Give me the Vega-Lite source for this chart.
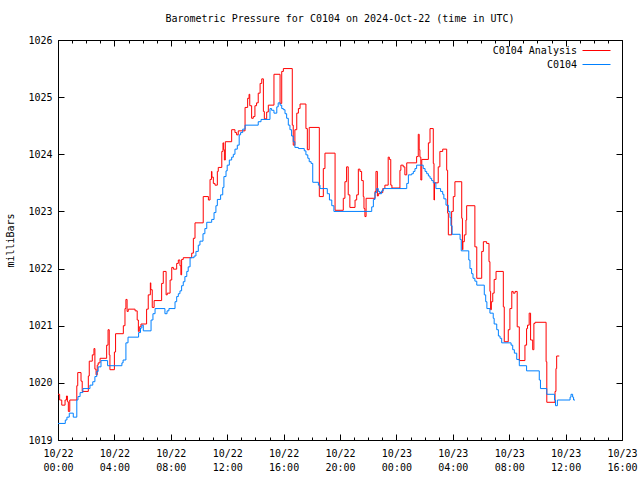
{
 "$schema": "https://vega.github.io/schema/vega-lite/v6.json",
 "width": 564, "height": 400,
 "autosize": {"type": "none"},
 "padding": {"left": 58, "top": 40, "right": 18, "bottom": 40},
 "background": "white",
 "title": {"text": "Barometric Pressure for C0104 on 2024-Oct-22 (time in UTC)", "fontSize": 10, "fontWeight": "normal", "offset": 11, "color": "black"},
 "config": {
  "font": "DejaVu Sans Mono",
  "view": {"stroke": "black", "strokeWidth": 1},
  "axis": {"grid": false, "domain": false, "tickColor": "black", "labelColor": "black", "labelFontSize": 10, "titleFontSize": 10, "titleFontWeight": "normal", "titleColor": "black"}
 },
 "data": {"values": [
   {"s":"C0104 Analysis","t":"2024-10-22T00:00:00Z","p":1019.80},
   {"s":"C0104 Analysis","t":"2024-10-22T00:07:00Z","p":1019.70},
   {"s":"C0104 Analysis","t":"2024-10-22T00:16:00Z","p":1019.61},
   {"s":"C0104 Analysis","t":"2024-10-22T00:30:00Z","p":1019.70},
   {"s":"C0104 Analysis","t":"2024-10-22T00:36:00Z","p":1019.77},
   {"s":"C0104 Analysis","t":"2024-10-22T00:40:00Z","p":1019.67},
   {"s":"C0104 Analysis","t":"2024-10-22T00:44:00Z","p":1019.50},
   {"s":"C0104 Analysis","t":"2024-10-22T00:50:00Z","p":1019.70},
   {"s":"C0104 Analysis","t":"2024-10-22T01:20:00Z","p":1019.95},
   {"s":"C0104 Analysis","t":"2024-10-22T01:24:00Z","p":1020.18},
   {"s":"C0104 Analysis","t":"2024-10-22T01:38:00Z","p":1020.03},
   {"s":"C0104 Analysis","t":"2024-10-22T01:43:00Z","p":1019.85},
   {"s":"C0104 Analysis","t":"2024-10-22T02:09:00Z","p":1020.12},
   {"s":"C0104 Analysis","t":"2024-10-22T02:13:00Z","p":1020.38},
   {"s":"C0104 Analysis","t":"2024-10-22T02:26:00Z","p":1020.49},
   {"s":"C0104 Analysis","t":"2024-10-22T02:33:00Z","p":1020.60},
   {"s":"C0104 Analysis","t":"2024-10-22T02:37:00Z","p":1020.24},
   {"s":"C0104 Analysis","t":"2024-10-22T02:42:00Z","p":1020.14},
   {"s":"C0104 Analysis","t":"2024-10-22T02:47:00Z","p":1020.31},
   {"s":"C0104 Analysis","t":"2024-10-22T02:51:00Z","p":1020.35},
   {"s":"C0104 Analysis","t":"2024-10-22T02:59:00Z","p":1020.43},
   {"s":"C0104 Analysis","t":"2024-10-22T03:27:00Z","p":1020.66},
   {"s":"C0104 Analysis","t":"2024-10-22T03:33:00Z","p":1020.93},
   {"s":"C0104 Analysis","t":"2024-10-22T03:38:00Z","p":1020.49},
   {"s":"C0104 Analysis","t":"2024-10-22T03:41:00Z","p":1020.23},
   {"s":"C0104 Analysis","t":"2024-10-22T04:00:00Z","p":1020.54},
   {"s":"C0104 Analysis","t":"2024-10-22T04:05:00Z","p":1020.86},
   {"s":"C0104 Analysis","t":"2024-10-22T04:38:00Z","p":1021.00},
   {"s":"C0104 Analysis","t":"2024-10-22T04:45:00Z","p":1021.30},
   {"s":"C0104 Analysis","t":"2024-10-22T04:49:00Z","p":1021.46},
   {"s":"C0104 Analysis","t":"2024-10-22T04:54:00Z","p":1021.25},
   {"s":"C0104 Analysis","t":"2024-10-22T04:59:00Z","p":1021.29},
   {"s":"C0104 Analysis","t":"2024-10-22T05:28:00Z","p":1021.26},
   {"s":"C0104 Analysis","t":"2024-10-22T05:37:00Z","p":1021.10},
   {"s":"C0104 Analysis","t":"2024-10-22T05:42:00Z","p":1020.90},
   {"s":"C0104 Analysis","t":"2024-10-22T05:46:00Z","p":1020.98},
   {"s":"C0104 Analysis","t":"2024-10-22T05:53:00Z","p":1021.03},
   {"s":"C0104 Analysis","t":"2024-10-22T06:17:00Z","p":1021.29},
   {"s":"C0104 Analysis","t":"2024-10-22T06:24:00Z","p":1021.54},
   {"s":"C0104 Analysis","t":"2024-10-22T06:33:00Z","p":1021.75},
   {"s":"C0104 Analysis","t":"2024-10-22T06:35:00Z","p":1021.63},
   {"s":"C0104 Analysis","t":"2024-10-22T06:41:00Z","p":1021.32},
   {"s":"C0104 Analysis","t":"2024-10-22T06:49:00Z","p":1021.44},
   {"s":"C0104 Analysis","t":"2024-10-22T07:21:00Z","p":1021.74},
   {"s":"C0104 Analysis","t":"2024-10-22T07:28:00Z","p":1021.95},
   {"s":"C0104 Analysis","t":"2024-10-22T07:40:00Z","p":1021.54},
   {"s":"C0104 Analysis","t":"2024-10-22T07:45:00Z","p":1021.57},
   {"s":"C0104 Analysis","t":"2024-10-22T07:57:00Z","p":1021.80},
   {"s":"C0104 Analysis","t":"2024-10-22T08:04:00Z","p":1022.02},
   {"s":"C0104 Analysis","t":"2024-10-22T08:11:00Z","p":1021.99},
   {"s":"C0104 Analysis","t":"2024-10-22T08:25:00Z","p":1022.09},
   {"s":"C0104 Analysis","t":"2024-10-22T08:32:00Z","p":1022.15},
   {"s":"C0104 Analysis","t":"2024-10-22T08:39:00Z","p":1022.05},
   {"s":"C0104 Analysis","t":"2024-10-22T08:43:00Z","p":1021.89},
   {"s":"C0104 Analysis","t":"2024-10-22T08:46:00Z","p":1022.16},
   {"s":"C0104 Analysis","t":"2024-10-22T08:53:00Z","p":1022.19},
   {"s":"C0104 Analysis","t":"2024-10-22T09:29:00Z","p":1022.27},
   {"s":"C0104 Analysis","t":"2024-10-22T09:36:00Z","p":1022.53},
   {"s":"C0104 Analysis","t":"2024-10-22T09:43:00Z","p":1022.80},
   {"s":"C0104 Analysis","t":"2024-10-22T10:18:00Z","p":1023.26},
   {"s":"C0104 Analysis","t":"2024-10-22T10:40:00Z","p":1023.20},
   {"s":"C0104 Analysis","t":"2024-10-22T10:47:00Z","p":1023.56},
   {"s":"C0104 Analysis","t":"2024-10-22T10:53:00Z","p":1023.70},
   {"s":"C0104 Analysis","t":"2024-10-22T10:55:00Z","p":1023.60},
   {"s":"C0104 Analysis","t":"2024-10-22T11:01:00Z","p":1023.49},
   {"s":"C0104 Analysis","t":"2024-10-22T11:08:00Z","p":1023.46},
   {"s":"C0104 Analysis","t":"2024-10-22T11:18:00Z","p":1023.70},
   {"s":"C0104 Analysis","t":"2024-10-22T11:22:00Z","p":1023.77},
   {"s":"C0104 Analysis","t":"2024-10-22T11:37:00Z","p":1024.05},
   {"s":"C0104 Analysis","t":"2024-10-22T11:42:00Z","p":1024.20},
   {"s":"C0104 Analysis","t":"2024-10-22T11:45:00Z","p":1024.08},
   {"s":"C0104 Analysis","t":"2024-10-22T11:48:00Z","p":1023.90},
   {"s":"C0104 Analysis","t":"2024-10-22T11:52:00Z","p":1024.22},
   {"s":"C0104 Analysis","t":"2024-10-22T12:19:00Z","p":1024.43},
   {"s":"C0104 Analysis","t":"2024-10-22T12:33:00Z","p":1024.38},
   {"s":"C0104 Analysis","t":"2024-10-22T12:40:00Z","p":1024.34},
   {"s":"C0104 Analysis","t":"2024-10-22T12:47:00Z","p":1024.41},
   {"s":"C0104 Analysis","t":"2024-10-22T13:16:00Z","p":1024.82},
   {"s":"C0104 Analysis","t":"2024-10-22T13:27:00Z","p":1024.98},
   {"s":"C0104 Analysis","t":"2024-10-22T13:33:00Z","p":1025.05},
   {"s":"C0104 Analysis","t":"2024-10-22T13:36:00Z","p":1024.85},
   {"s":"C0104 Analysis","t":"2024-10-22T13:44:00Z","p":1024.63},
   {"s":"C0104 Analysis","t":"2024-10-22T13:51:00Z","p":1024.66},
   {"s":"C0104 Analysis","t":"2024-10-22T13:58:00Z","p":1024.85},
   {"s":"C0104 Analysis","t":"2024-10-22T14:05:00Z","p":1024.90},
   {"s":"C0104 Analysis","t":"2024-10-22T14:12:00Z","p":1025.07},
   {"s":"C0104 Analysis","t":"2024-10-22T14:20:00Z","p":1025.24},
   {"s":"C0104 Analysis","t":"2024-10-22T14:27:00Z","p":1025.32},
   {"s":"C0104 Analysis","t":"2024-10-22T14:34:00Z","p":1024.75},
   {"s":"C0104 Analysis","t":"2024-10-22T14:38:00Z","p":1024.62},
   {"s":"C0104 Analysis","t":"2024-10-22T14:48:00Z","p":1024.74},
   {"s":"C0104 Analysis","t":"2024-10-22T14:55:00Z","p":1024.86},
   {"s":"C0104 Analysis","t":"2024-10-22T15:19:00Z","p":1025.40},
   {"s":"C0104 Analysis","t":"2024-10-22T15:45:00Z","p":1024.89},
   {"s":"C0104 Analysis","t":"2024-10-22T15:52:00Z","p":1025.45},
   {"s":"C0104 Analysis","t":"2024-10-22T15:59:00Z","p":1025.50},
   {"s":"C0104 Analysis","t":"2024-10-22T16:37:00Z","p":1024.51},
   {"s":"C0104 Analysis","t":"2024-10-22T16:41:00Z","p":1024.16},
   {"s":"C0104 Analysis","t":"2024-10-22T16:48:00Z","p":1024.43},
   {"s":"C0104 Analysis","t":"2024-10-22T16:56:00Z","p":1024.72},
   {"s":"C0104 Analysis","t":"2024-10-22T17:03:00Z","p":1024.80},
   {"s":"C0104 Analysis","t":"2024-10-22T17:10:00Z","p":1024.88},
   {"s":"C0104 Analysis","t":"2024-10-22T17:35:00Z","p":1024.45},
   {"s":"C0104 Analysis","t":"2024-10-22T17:41:00Z","p":1024.08},
   {"s":"C0104 Analysis","t":"2024-10-22T17:49:00Z","p":1024.47},
   {"s":"C0104 Analysis","t":"2024-10-22T18:32:00Z","p":1023.26},
   {"s":"C0104 Analysis","t":"2024-10-22T18:49:00Z","p":1023.75},
   {"s":"C0104 Analysis","t":"2024-10-22T18:56:00Z","p":1024.02},
   {"s":"C0104 Analysis","t":"2024-10-22T19:39:00Z","p":1023.02},
   {"s":"C0104 Analysis","t":"2024-10-22T20:14:00Z","p":1023.23},
   {"s":"C0104 Analysis","t":"2024-10-22T20:21:00Z","p":1023.52},
   {"s":"C0104 Analysis","t":"2024-10-22T20:28:00Z","p":1023.78},
   {"s":"C0104 Analysis","t":"2024-10-22T20:35:00Z","p":1023.29},
   {"s":"C0104 Analysis","t":"2024-10-22T20:42:00Z","p":1023.07},
   {"s":"C0104 Analysis","t":"2024-10-22T21:04:00Z","p":1023.20},
   {"s":"C0104 Analysis","t":"2024-10-22T21:11:00Z","p":1023.29},
   {"s":"C0104 Analysis","t":"2024-10-22T21:18:00Z","p":1023.74},
   {"s":"C0104 Analysis","t":"2024-10-22T21:25:00Z","p":1023.70},
   {"s":"C0104 Analysis","t":"2024-10-22T21:32:00Z","p":1023.54},
   {"s":"C0104 Analysis","t":"2024-10-22T21:39:00Z","p":1023.26},
   {"s":"C0104 Analysis","t":"2024-10-22T21:42:00Z","p":1023.05},
   {"s":"C0104 Analysis","t":"2024-10-22T21:46:00Z","p":1022.91},
   {"s":"C0104 Analysis","t":"2024-10-22T21:51:00Z","p":1023.23},
   {"s":"C0104 Analysis","t":"2024-10-22T22:29:00Z","p":1023.35},
   {"s":"C0104 Analysis","t":"2024-10-22T22:33:00Z","p":1023.70},
   {"s":"C0104 Analysis","t":"2024-10-22T22:39:00Z","p":1023.27},
   {"s":"C0104 Analysis","t":"2024-10-22T22:43:00Z","p":1023.31},
   {"s":"C0104 Analysis","t":"2024-10-22T22:50:00Z","p":1023.33},
   {"s":"C0104 Analysis","t":"2024-10-22T23:02:00Z","p":1023.40},
   {"s":"C0104 Analysis","t":"2024-10-22T23:11:00Z","p":1023.46},
   {"s":"C0104 Analysis","t":"2024-10-22T23:25:00Z","p":1023.95},
   {"s":"C0104 Analysis","t":"2024-10-22T23:30:00Z","p":1023.91},
   {"s":"C0104 Analysis","t":"2024-10-22T23:36:00Z","p":1023.46},
   {"s":"C0104 Analysis","t":"2024-10-22T23:41:00Z","p":1023.41},
   {"s":"C0104 Analysis","t":"2024-10-23T00:15:00Z","p":1023.72},
   {"s":"C0104 Analysis","t":"2024-10-23T00:19:00Z","p":1023.81},
   {"s":"C0104 Analysis","t":"2024-10-23T00:29:00Z","p":1023.78},
   {"s":"C0104 Analysis","t":"2024-10-23T00:36:00Z","p":1023.64},
   {"s":"C0104 Analysis","t":"2024-10-23T00:44:00Z","p":1023.85},
   {"s":"C0104 Analysis","t":"2024-10-23T01:26:00Z","p":1023.96},
   {"s":"C0104 Analysis","t":"2024-10-23T01:33:00Z","p":1024.35},
   {"s":"C0104 Analysis","t":"2024-10-23T01:37:00Z","p":1024.08},
   {"s":"C0104 Analysis","t":"2024-10-23T01:40:00Z","p":1023.95},
   {"s":"C0104 Analysis","t":"2024-10-23T01:44:00Z","p":1023.55},
   {"s":"C0104 Analysis","t":"2024-10-23T01:48:00Z","p":1023.91},
   {"s":"C0104 Analysis","t":"2024-10-23T02:16:00Z","p":1024.20},
   {"s":"C0104 Analysis","t":"2024-10-23T02:23:00Z","p":1024.45},
   {"s":"C0104 Analysis","t":"2024-10-23T02:37:00Z","p":1023.84},
   {"s":"C0104 Analysis","t":"2024-10-23T02:40:00Z","p":1023.20},
   {"s":"C0104 Analysis","t":"2024-10-23T02:42:00Z","p":1023.50},
   {"s":"C0104 Analysis","t":"2024-10-23T02:58:00Z","p":1023.78},
   {"s":"C0104 Analysis","t":"2024-10-23T03:05:00Z","p":1024.05},
   {"s":"C0104 Analysis","t":"2024-10-23T03:17:00Z","p":1024.09},
   {"s":"C0104 Analysis","t":"2024-10-23T03:34:00Z","p":1023.72},
   {"s":"C0104 Analysis","t":"2024-10-23T03:38:00Z","p":1022.97},
   {"s":"C0104 Analysis","t":"2024-10-23T03:41:00Z","p":1022.59},
   {"s":"C0104 Analysis","t":"2024-10-23T03:55:00Z","p":1023.00},
   {"s":"C0104 Analysis","t":"2024-10-23T04:02:00Z","p":1023.26},
   {"s":"C0104 Analysis","t":"2024-10-23T04:09:00Z","p":1023.52},
   {"s":"C0104 Analysis","t":"2024-10-23T04:38:00Z","p":1022.88},
   {"s":"C0104 Analysis","t":"2024-10-23T04:41:00Z","p":1022.33},
   {"s":"C0104 Analysis","t":"2024-10-23T04:43:00Z","p":1022.47},
   {"s":"C0104 Analysis","t":"2024-10-23T04:49:00Z","p":1022.59},
   {"s":"C0104 Analysis","t":"2024-10-23T04:56:00Z","p":1022.85},
   {"s":"C0104 Analysis","t":"2024-10-23T04:59:00Z","p":1023.10},
   {"s":"C0104 Analysis","t":"2024-10-23T05:34:00Z","p":1022.38},
   {"s":"C0104 Analysis","t":"2024-10-23T05:42:00Z","p":1021.83},
   {"s":"C0104 Analysis","t":"2024-10-23T06:03:00Z","p":1022.30},
   {"s":"C0104 Analysis","t":"2024-10-23T06:10:00Z","p":1022.47},
   {"s":"C0104 Analysis","t":"2024-10-23T06:24:00Z","p":1022.44},
   {"s":"C0104 Analysis","t":"2024-10-23T06:34:00Z","p":1022.12},
   {"s":"C0104 Analysis","t":"2024-10-23T06:38:00Z","p":1021.60},
   {"s":"C0104 Analysis","t":"2024-10-23T06:41:00Z","p":1021.28},
   {"s":"C0104 Analysis","t":"2024-10-23T06:44:00Z","p":1021.42},
   {"s":"C0104 Analysis","t":"2024-10-23T06:50:00Z","p":1021.57},
   {"s":"C0104 Analysis","t":"2024-10-23T06:56:00Z","p":1021.81},
   {"s":"C0104 Analysis","t":"2024-10-23T07:04:00Z","p":1021.95},
   {"s":"C0104 Analysis","t":"2024-10-23T07:35:00Z","p":1021.33},
   {"s":"C0104 Analysis","t":"2024-10-23T07:39:00Z","p":1020.72},
   {"s":"C0104 Analysis","t":"2024-10-23T07:56:00Z","p":1020.93},
   {"s":"C0104 Analysis","t":"2024-10-23T08:03:00Z","p":1021.30},
   {"s":"C0104 Analysis","t":"2024-10-23T08:11:00Z","p":1021.60},
   {"s":"C0104 Analysis","t":"2024-10-23T08:17:00Z","p":1021.57},
   {"s":"C0104 Analysis","t":"2024-10-23T08:25:00Z","p":1021.60},
   {"s":"C0104 Analysis","t":"2024-10-23T08:34:00Z","p":1020.98},
   {"s":"C0104 Analysis","t":"2024-10-23T08:43:00Z","p":1020.39},
   {"s":"C0104 Analysis","t":"2024-10-23T09:07:00Z","p":1020.66},
   {"s":"C0104 Analysis","t":"2024-10-23T09:14:00Z","p":1020.95},
   {"s":"C0104 Analysis","t":"2024-10-23T09:18:00Z","p":1021.01},
   {"s":"C0104 Analysis","t":"2024-10-23T09:25:00Z","p":1021.22},
   {"s":"C0104 Analysis","t":"2024-10-23T09:31:00Z","p":1020.75},
   {"s":"C0104 Analysis","t":"2024-10-23T09:40:00Z","p":1020.58},
   {"s":"C0104 Analysis","t":"2024-10-23T09:45:00Z","p":1021.04},
   {"s":"C0104 Analysis","t":"2024-10-23T09:50:00Z","p":1021.06},
   {"s":"C0104 Analysis","t":"2024-10-23T10:37:00Z","p":1020.37},
   {"s":"C0104 Analysis","t":"2024-10-23T10:40:00Z","p":1019.66},
   {"s":"C0104 Analysis","t":"2024-10-23T11:15:00Z","p":1019.85},
   {"s":"C0104 Analysis","t":"2024-10-23T11:19:00Z","p":1020.25},
   {"s":"C0104 Analysis","t":"2024-10-23T11:22:00Z","p":1020.47},
   {"s":"C0104 Analysis","t":"2024-10-23T11:33:00Z","p":1020.47},
   {"s":"C0104","t":"2024-10-22T00:00:00Z","p":1019.29},
   {"s":"C0104","t":"2024-10-22T00:31:00Z","p":1019.35},
   {"s":"C0104","t":"2024-10-22T00:38:00Z","p":1019.40},
   {"s":"C0104","t":"2024-10-22T00:48:00Z","p":1019.47},
   {"s":"C0104","t":"2024-10-22T01:05:00Z","p":1019.40},
   {"s":"C0104","t":"2024-10-22T01:20:00Z","p":1019.70},
   {"s":"C0104","t":"2024-10-22T01:25:00Z","p":1019.76},
   {"s":"C0104","t":"2024-10-22T01:34:00Z","p":1019.83},
   {"s":"C0104","t":"2024-10-22T01:46:00Z","p":1019.90},
   {"s":"C0104","t":"2024-10-22T02:16:00Z","p":1019.96},
   {"s":"C0104","t":"2024-10-22T02:28:00Z","p":1020.02},
   {"s":"C0104","t":"2024-10-22T02:37:00Z","p":1020.11},
   {"s":"C0104","t":"2024-10-22T02:45:00Z","p":1020.20},
   {"s":"C0104","t":"2024-10-22T02:51:00Z","p":1020.28},
   {"s":"C0104","t":"2024-10-22T03:03:00Z","p":1020.39},
   {"s":"C0104","t":"2024-10-22T03:31:00Z","p":1020.30},
   {"s":"C0104","t":"2024-10-22T04:32:00Z","p":1020.35},
   {"s":"C0104","t":"2024-10-22T04:37:00Z","p":1020.40},
   {"s":"C0104","t":"2024-10-22T04:49:00Z","p":1020.70},
   {"s":"C0104","t":"2024-10-22T04:58:00Z","p":1020.80},
   {"s":"C0104","t":"2024-10-22T05:43:00Z","p":1020.88},
   {"s":"C0104","t":"2024-10-22T05:51:00Z","p":1020.96},
   {"s":"C0104","t":"2024-10-22T05:57:00Z","p":1021.01},
   {"s":"C0104","t":"2024-10-22T06:03:00Z","p":1020.91},
   {"s":"C0104","t":"2024-10-22T06:36:00Z","p":1021.10},
   {"s":"C0104","t":"2024-10-22T06:44:00Z","p":1021.21},
   {"s":"C0104","t":"2024-10-22T06:53:00Z","p":1021.30},
   {"s":"C0104","t":"2024-10-22T07:35:00Z","p":1021.21},
   {"s":"C0104","t":"2024-10-22T07:44:00Z","p":1021.26},
   {"s":"C0104","t":"2024-10-22T07:52:00Z","p":1021.30},
   {"s":"C0104","t":"2024-10-22T08:18:00Z","p":1021.42},
   {"s":"C0104","t":"2024-10-22T08:25:00Z","p":1021.51},
   {"s":"C0104","t":"2024-10-22T08:32:00Z","p":1021.56},
   {"s":"C0104","t":"2024-10-22T08:39:00Z","p":1021.61},
   {"s":"C0104","t":"2024-10-22T08:46:00Z","p":1021.70},
   {"s":"C0104","t":"2024-10-22T08:53:00Z","p":1021.77},
   {"s":"C0104","t":"2024-10-22T09:00:00Z","p":1021.86},
   {"s":"C0104","t":"2024-10-22T09:08:00Z","p":1021.95},
   {"s":"C0104","t":"2024-10-22T09:14:00Z","p":1022.03},
   {"s":"C0104","t":"2024-10-22T09:22:00Z","p":1022.19},
   {"s":"C0104","t":"2024-10-22T09:39:00Z","p":1022.22},
   {"s":"C0104","t":"2024-10-22T09:47:00Z","p":1022.30},
   {"s":"C0104","t":"2024-10-22T09:57:00Z","p":1022.41},
   {"s":"C0104","t":"2024-10-22T10:04:00Z","p":1022.48},
   {"s":"C0104","t":"2024-10-22T10:17:00Z","p":1022.61},
   {"s":"C0104","t":"2024-10-22T10:25:00Z","p":1022.70},
   {"s":"C0104","t":"2024-10-22T10:33:00Z","p":1022.81},
   {"s":"C0104","t":"2024-10-22T10:54:00Z","p":1022.86},
   {"s":"C0104","t":"2024-10-22T11:04:00Z","p":1022.98},
   {"s":"C0104","t":"2024-10-22T11:12:00Z","p":1023.10},
   {"s":"C0104","t":"2024-10-22T11:18:00Z","p":1023.21},
   {"s":"C0104","t":"2024-10-22T11:32:00Z","p":1023.29},
   {"s":"C0104","t":"2024-10-22T11:41:00Z","p":1023.42},
   {"s":"C0104","t":"2024-10-22T11:46:00Z","p":1023.61},
   {"s":"C0104","t":"2024-10-22T11:55:00Z","p":1023.71},
   {"s":"C0104","t":"2024-10-22T12:00:00Z","p":1023.81},
   {"s":"C0104","t":"2024-10-22T12:09:00Z","p":1023.90},
   {"s":"C0104","t":"2024-10-22T12:19:00Z","p":1023.95},
   {"s":"C0104","t":"2024-10-22T12:26:00Z","p":1024.00},
   {"s":"C0104","t":"2024-10-22T12:33:00Z","p":1024.09},
   {"s":"C0104","t":"2024-10-22T12:43:00Z","p":1024.16},
   {"s":"C0104","t":"2024-10-22T12:51:00Z","p":1024.34},
   {"s":"C0104","t":"2024-10-22T12:57:00Z","p":1024.38},
   {"s":"C0104","t":"2024-10-22T13:06:00Z","p":1024.44},
   {"s":"C0104","t":"2024-10-22T13:16:00Z","p":1024.51},
   {"s":"C0104","t":"2024-10-22T14:12:00Z","p":1024.57},
   {"s":"C0104","t":"2024-10-22T14:24:00Z","p":1024.61},
   {"s":"C0104","t":"2024-10-22T15:02:00Z","p":1024.80},
   {"s":"C0104","t":"2024-10-22T15:09:00Z","p":1024.77},
   {"s":"C0104","t":"2024-10-22T15:19:00Z","p":1024.72},
   {"s":"C0104","t":"2024-10-22T15:31:00Z","p":1024.83},
   {"s":"C0104","t":"2024-10-22T15:37:00Z","p":1024.90},
   {"s":"C0104","t":"2024-10-22T15:45:00Z","p":1024.86},
   {"s":"C0104","t":"2024-10-22T15:52:00Z","p":1024.80},
   {"s":"C0104","t":"2024-10-22T15:59:00Z","p":1024.78},
   {"s":"C0104","t":"2024-10-22T16:06:00Z","p":1024.71},
   {"s":"C0104","t":"2024-10-22T16:13:00Z","p":1024.63},
   {"s":"C0104","t":"2024-10-22T16:20:00Z","p":1024.51},
   {"s":"C0104","t":"2024-10-22T16:27:00Z","p":1024.43},
   {"s":"C0104","t":"2024-10-22T16:34:00Z","p":1024.32},
   {"s":"C0104","t":"2024-10-22T16:41:00Z","p":1024.22},
   {"s":"C0104","t":"2024-10-22T16:48:00Z","p":1024.12},
   {"s":"C0104","t":"2024-10-22T17:03:00Z","p":1024.10},
   {"s":"C0104","t":"2024-10-22T17:28:00Z","p":1024.06},
   {"s":"C0104","t":"2024-10-22T17:35:00Z","p":1023.99},
   {"s":"C0104","t":"2024-10-22T17:43:00Z","p":1023.93},
   {"s":"C0104","t":"2024-10-22T17:49:00Z","p":1023.87},
   {"s":"C0104","t":"2024-10-22T17:57:00Z","p":1023.84},
   {"s":"C0104","t":"2024-10-22T18:04:00Z","p":1023.51},
   {"s":"C0104","t":"2024-10-22T18:28:00Z","p":1023.46},
   {"s":"C0104","t":"2024-10-22T18:35:00Z","p":1023.40},
   {"s":"C0104","t":"2024-10-22T19:06:00Z","p":1023.31},
   {"s":"C0104","t":"2024-10-22T19:15:00Z","p":1023.20},
   {"s":"C0104","t":"2024-10-22T19:25:00Z","p":1023.10},
   {"s":"C0104","t":"2024-10-22T19:34:00Z","p":1023.00},
   {"s":"C0104","t":"2024-10-22T22:15:00Z","p":1023.08},
   {"s":"C0104","t":"2024-10-22T22:22:00Z","p":1023.21},
   {"s":"C0104","t":"2024-10-22T22:29:00Z","p":1023.33},
   {"s":"C0104","t":"2024-10-22T22:36:00Z","p":1023.40},
   {"s":"C0104","t":"2024-10-22T22:43:00Z","p":1023.35},
   {"s":"C0104","t":"2024-10-22T22:50:00Z","p":1023.31},
   {"s":"C0104","t":"2024-10-22T22:57:00Z","p":1023.36},
   {"s":"C0104","t":"2024-10-22T23:04:00Z","p":1023.40},
   {"s":"C0104","t":"2024-10-23T00:44:00Z","p":1023.49},
   {"s":"C0104","t":"2024-10-23T00:51:00Z","p":1023.64},
   {"s":"C0104","t":"2024-10-23T01:05:00Z","p":1023.66},
   {"s":"C0104","t":"2024-10-23T01:12:00Z","p":1023.70},
   {"s":"C0104","t":"2024-10-23T01:19:00Z","p":1023.75},
   {"s":"C0104","t":"2024-10-23T01:26:00Z","p":1023.81},
   {"s":"C0104","t":"2024-10-23T01:54:00Z","p":1023.75},
   {"s":"C0104","t":"2024-10-23T02:02:00Z","p":1023.70},
   {"s":"C0104","t":"2024-10-23T02:09:00Z","p":1023.66},
   {"s":"C0104","t":"2024-10-23T02:16:00Z","p":1023.62},
   {"s":"C0104","t":"2024-10-23T02:23:00Z","p":1023.58},
   {"s":"C0104","t":"2024-10-23T02:30:00Z","p":1023.54},
   {"s":"C0104","t":"2024-10-23T02:37:00Z","p":1023.50},
   {"s":"C0104","t":"2024-10-23T02:48:00Z","p":1023.40},
   {"s":"C0104","t":"2024-10-23T03:08:00Z","p":1023.35},
   {"s":"C0104","t":"2024-10-23T03:17:00Z","p":1023.30},
   {"s":"C0104","t":"2024-10-23T03:22:00Z","p":1023.22},
   {"s":"C0104","t":"2024-10-23T03:31:00Z","p":1023.11},
   {"s":"C0104","t":"2024-10-23T03:41:00Z","p":1023.00},
   {"s":"C0104","t":"2024-10-23T03:48:00Z","p":1022.89},
   {"s":"C0104","t":"2024-10-23T03:52:00Z","p":1022.75},
   {"s":"C0104","t":"2024-10-23T03:57:00Z","p":1022.60},
   {"s":"C0104","t":"2024-10-23T04:31:00Z","p":1022.51},
   {"s":"C0104","t":"2024-10-23T04:36:00Z","p":1022.31},
   {"s":"C0104","t":"2024-10-23T05:08:00Z","p":1022.15},
   {"s":"C0104","t":"2024-10-23T05:13:00Z","p":1022.00},
   {"s":"C0104","t":"2024-10-23T05:20:00Z","p":1021.91},
   {"s":"C0104","t":"2024-10-23T05:26:00Z","p":1021.83},
   {"s":"C0104","t":"2024-10-23T05:34:00Z","p":1021.78},
   {"s":"C0104","t":"2024-10-23T05:42:00Z","p":1021.71},
   {"s":"C0104","t":"2024-10-23T06:14:00Z","p":1021.54},
   {"s":"C0104","t":"2024-10-23T06:20:00Z","p":1021.42},
   {"s":"C0104","t":"2024-10-23T06:25:00Z","p":1021.30},
   {"s":"C0104","t":"2024-10-23T06:38:00Z","p":1021.22},
   {"s":"C0104","t":"2024-10-23T06:52:00Z","p":1021.13},
   {"s":"C0104","t":"2024-10-23T06:56:00Z","p":1021.03},
   {"s":"C0104","t":"2024-10-23T07:07:00Z","p":1020.93},
   {"s":"C0104","t":"2024-10-23T07:14:00Z","p":1020.82},
   {"s":"C0104","t":"2024-10-23T07:21:00Z","p":1020.78},
   {"s":"C0104","t":"2024-10-23T07:28:00Z","p":1020.70},
   {"s":"C0104","t":"2024-10-23T08:08:00Z","p":1020.66},
   {"s":"C0104","t":"2024-10-23T08:15:00Z","p":1020.58},
   {"s":"C0104","t":"2024-10-23T08:22:00Z","p":1020.52},
   {"s":"C0104","t":"2024-10-23T08:32:00Z","p":1020.41},
   {"s":"C0104","t":"2024-10-23T08:43:00Z","p":1020.30},
   {"s":"C0104","t":"2024-10-23T09:14:00Z","p":1020.21},
   {"s":"C0104","t":"2024-10-23T10:08:00Z","p":1020.05},
   {"s":"C0104","t":"2024-10-23T10:13:00Z","p":1019.90},
   {"s":"C0104","t":"2024-10-23T10:40:00Z","p":1019.80},
   {"s":"C0104","t":"2024-10-23T11:13:00Z","p":1019.70},
   {"s":"C0104","t":"2024-10-23T11:17:00Z","p":1019.60},
   {"s":"C0104","t":"2024-10-23T11:25:00Z","p":1019.70},
   {"s":"C0104","t":"2024-10-23T12:19:00Z","p":1019.75},
   {"s":"C0104","t":"2024-10-23T12:23:00Z","p":1019.80},
   {"s":"C0104","t":"2024-10-23T12:30:00Z","p":1019.75},
   {"s":"C0104","t":"2024-10-23T12:34:00Z","p":1019.70},
   {"s":"C0104","t":"2024-10-23T12:40:00Z","p":1019.70}
 ]},
 "layer": [
  {
   "transform": [{"filter": "datum.s == 'C0104 Analysis'"}],
   "mark": {"type": "line", "interpolate": "step-after", "strokeWidth": 1},
   "encoding": {
    "x": {"field": "t", "type": "temporal",
     "scale": {"type": "utc", "domain": [1729555200000, 1729699200000]},
     "axis": {"orient": "bottom", "title": null, "values": [1729555200000, 1729569600000, 1729584000000, 1729598400000, 1729612800000, 1729627200000, 1729641600000, 1729656000000, 1729670400000, 1729684800000, 1729699200000], "tickSize": -6,
      "labelExpr": "[utcFormat(datum.value, '%m/%d'), utcFormat(datum.value, '%H:%M')]",
      "labelOverlap": false, "labelFlush": false, "labelBound": false, "labelPadding": 14, "labelLineHeight": 14, "labelBaseline": "top"}},
    "y": {"field": "p", "type": "quantitative",
     "scale": {"domain": [1019, 1026], "nice": false, "zero": false},
     "axis": {"orient": "left", "title": "milliBars", "values": [1019, 1020, 1021, 1022, 1023, 1024, 1025, 1026], "format": "d", "tickSize": -6, "labelPadding": 12, "titlePadding": 12}},
    "color": {"field": "s", "type": "nominal",
     "scale": {"domain": ["C0104 Analysis", "C0104"], "range": ["#ff0000", "#0080ff"]},
     "legend": {"title": null, "orient": "none", "legendX": 531, "legendY": 3, "symbolType": "M-2,0H2", "symbolSize": 196, "symbolStrokeWidth": 1, "labelAlign": "right", "labelOffset": -27, "rowPadding": 1, "labelFontSize": 10, "labelColor": "black", "padding": 0}}
   }
  },
  {
   "transform": [{"filter": "datum.s == 'C0104'"}],
   "mark": {"type": "line", "interpolate": "step-after", "strokeWidth": 1},
   "encoding": {
    "x": {"field": "t", "type": "temporal",
     "axis": {"orient": "top", "title": null, "labels": false, "values": [1729555200000, 1729569600000, 1729584000000, 1729598400000, 1729612800000, 1729627200000, 1729641600000, 1729656000000, 1729670400000, 1729684800000, 1729699200000], "tickSize": -6}},
    "y": {"field": "p", "type": "quantitative",
     "axis": {"orient": "right", "title": null, "labels": false, "values": [1019, 1020, 1021, 1022, 1023, 1024, 1025, 1026], "tickSize": -6}},
    "color": {"field": "s", "type": "nominal"}
   }
  },
  {
   "transform": [{"filter": "datum.s == 'C0104'"}],
   "mark": {"type": "line", "strokeOpacity": 0},
   "encoding": {
    "x": {"field": "t", "type": "temporal",
     "axis": {"orient": "bottom", "title": null, "labels": false, "tickSize": -3, "values": [1729555200000, 1729558800000, 1729562400000, 1729566000000, 1729569600000, 1729573200000, 1729576800000, 1729580400000, 1729584000000, 1729587600000, 1729591200000, 1729594800000, 1729598400000, 1729602000000, 1729605600000, 1729609200000, 1729612800000, 1729616400000, 1729620000000, 1729623600000, 1729627200000, 1729630800000, 1729634400000, 1729638000000, 1729641600000, 1729645200000, 1729648800000, 1729652400000, 1729656000000, 1729659600000, 1729663200000, 1729666800000, 1729670400000, 1729674000000, 1729677600000, 1729681200000, 1729684800000, 1729688400000, 1729692000000, 1729695600000, 1729699200000]}},
    "y": {"field": "p", "type": "quantitative", "axis": null}
   }
  },
  {
   "transform": [{"filter": "datum.s == 'C0104'"}],
   "mark": {"type": "line", "strokeOpacity": 0},
   "encoding": {
    "x": {"field": "t", "type": "temporal",
     "axis": {"orient": "top", "title": null, "labels": false, "tickSize": -3, "values": [1729555200000, 1729558800000, 1729562400000, 1729566000000, 1729569600000, 1729573200000, 1729576800000, 1729580400000, 1729584000000, 1729587600000, 1729591200000, 1729594800000, 1729598400000, 1729602000000, 1729605600000, 1729609200000, 1729612800000, 1729616400000, 1729620000000, 1729623600000, 1729627200000, 1729630800000, 1729634400000, 1729638000000, 1729641600000, 1729645200000, 1729648800000, 1729652400000, 1729656000000, 1729659600000, 1729663200000, 1729666800000, 1729670400000, 1729674000000, 1729677600000, 1729681200000, 1729684800000, 1729688400000, 1729692000000, 1729695600000, 1729699200000]}},
    "y": {"field": "p", "type": "quantitative", "axis": null}
   }
  }
 ],
 "resolve": {"axis": {"x": "independent", "y": "independent"}}
}
